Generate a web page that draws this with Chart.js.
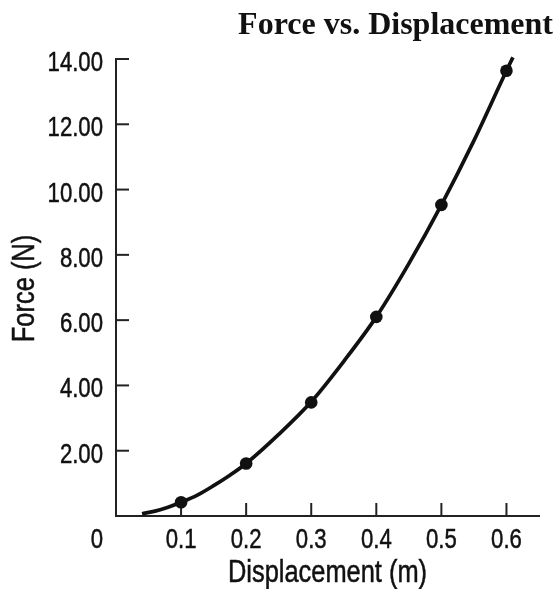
<!DOCTYPE html>
<html><head><meta charset="utf-8">
<script src="https://cdn.jsdelivr.net/npm/chart.js@4/dist/chart.umd.min.js"></script>
<style>html,body{margin:0;padding:0;background:#fff;}#wrap{width:558px;height:589px;}</style>
</head><body><div id="wrap"><canvas id="c" width="558" height="589"></canvas></div>
<script>
const chartTitle = 'Force vs. Displacement';
const xAxisTitle = 'Displacement (m)';
const yAxisTitle = 'Force (N)';
const originLabel = '0';
const displacement = [0.1, 0.2, 0.3, 0.4, 0.5, 0.6];
const force = [0.42, 1.61, 3.48, 6.10, 9.53, 13.64];
const curveDisplacement = [0.04, 0.06, 0.08, 0.1, 0.125, 0.15, 0.175, 0.2, 0.25, 0.3, 0.35, 0.4, 0.45, 0.5, 0.55, 0.6, 0.61];
const curveForce = [0.07, 0.15, 0.27, 0.42, 0.64, 0.93, 1.25, 1.61, 2.50, 3.50, 4.74, 6.10, 7.73, 9.53, 11.50, 13.64, 14.05];
const xTicks = [0.1, 0.2, 0.3, 0.4, 0.5, 0.6];
const yTicks = [2, 4, 6, 8, 10, 12, 14];

const SANS = '"Liberation Sans", Arial, sans-serif';
const NARROW_SCALE = 0.82;
const INK = '#111';
const AXIS = '#222';
const TICK_FONT = 27;
const AXIS_TITLE_FONT = 31;

function narrowText(ctx, text, x, y, align, rotate) {
  ctx.save();
  ctx.translate(x, y);
  if (rotate) ctx.rotate(rotate);
  ctx.scale(NARROW_SCALE, 1);
  ctx.textAlign = align;
  ctx.fillText(text, 0, 0);
  ctx.lineWidth = 0.5;
  ctx.strokeStyle = INK;
  ctx.strokeText(text, 0, 0);
  ctx.restore();
}

const extras = {
  id: 'extras',
  beforeDatasetsDraw(chart) {
    const {ctx, chartArea, scales: {x, y}} = chart;
    ctx.save();
    ctx.strokeStyle = AXIS; ctx.lineWidth = 2;
    x.ticks.forEach(t => {
      const px = x.getPixelForValue(t.value);
      ctx.beginPath(); ctx.moveTo(px, chartArea.bottom); ctx.lineTo(px, chartArea.bottom - 13); ctx.stroke();
    });
    y.ticks.forEach(t => {
      const py = y.getPixelForValue(t.value);
      ctx.beginPath(); ctx.moveTo(chartArea.left, py); ctx.lineTo(chartArea.left + 13, py); ctx.stroke();
    });
    ctx.restore();
  },
  afterDraw(chart) {
    const {ctx, chartArea, scales: {x, y}} = chart;
    ctx.save();
    ctx.fillStyle = INK;
    ctx.textBaseline = 'alphabetic';
    ctx.font = TICK_FONT + 'px ' + SANS;
    const labelBase = chartArea.bottom + 32;
    x.ticks.forEach(t => {
      narrowText(ctx, t.value.toFixed(1), x.getPixelForValue(t.value), labelBase, 'center');
    });
    const yRight = chartArea.left - 13;
    y.ticks.forEach(t => {
      narrowText(ctx, t.value.toFixed(2), yRight, y.getPixelForValue(t.value) + 12, 'right');
    });
    narrowText(ctx, originLabel, yRight, labelBase, 'right');
    ctx.font = AXIS_TITLE_FONT + 'px ' + SANS;
    narrowText(ctx, xAxisTitle, (chartArea.left + chartArea.right) / 2, chart.height - 7, 'center');
    narrowText(ctx, yAxisTitle, 34, (chartArea.top + chartArea.bottom) / 2 + 1, 'center', -Math.PI / 2);
    ctx.font = 'bold 32px "Liberation Serif", "Times New Roman", serif';
    ctx.textAlign = 'right';
    ctx.fillText(chartTitle, chart.width - 5, 33.5);
    ctx.restore();
  }
};

new Chart(document.getElementById('c'), {
  type: 'scatter',
  data: {
    datasets: [
      {
        type: 'scatter',
        data: displacement.map((v, i) => ({x: v, y: force[i]})),
        pointRadius: 6.3, pointHoverRadius: 6.3,
        pointBackgroundColor: INK, pointBorderColor: INK, pointBorderWidth: 0,
        order: 0
      },
      {
        type: 'line',
        data: curveDisplacement.map((v, i) => ({x: v, y: curveForce[i]})),
        borderColor: INK, borderWidth: 3.7, pointRadius: 0,
        cubicInterpolationMode: 'monotone', fill: false, clip: false,
        order: 1
      }
    ]
  },
  options: {
    responsive: false, animation: false,
    layout: {padding: {top: 59, right: 19, bottom: 0, left: 0}},
    plugins: {legend: {display: false}, tooltip: {enabled: false}, title: {display: false}},
    scales: {
      x: {
        type: 'linear', min: 0, max: 0.65,
        afterFit(s) { s.height = 73; },
        afterBuildTicks(s) { s.ticks = xTicks.map(v => ({value: v})); },
        grid: {display: true, drawOnChartArea: false, drawTicks: false},
        border: {display: true, color: AXIS, width: 2},
        ticks: {display: false},
        title: {display: false, text: xAxisTitle}
      },
      y: {
        type: 'linear', min: 0, max: 14,
        afterFit(s) { s.width = 116; },
        afterBuildTicks(s) { s.ticks = yTicks.map(v => ({value: v})); },
        grid: {display: true, drawOnChartArea: false, drawTicks: false},
        border: {display: true, color: AXIS, width: 2},
        ticks: {display: false},
        title: {display: false, text: yAxisTitle}
      }
    }
  },
  plugins: [extras]
});
</script></body></html>
